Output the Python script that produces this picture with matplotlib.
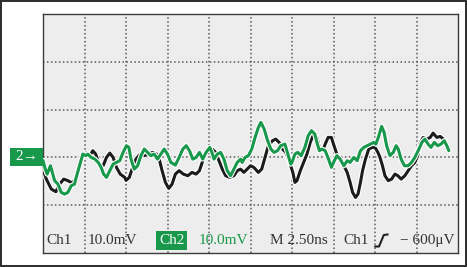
import matplotlib
matplotlib.use("Agg")
import matplotlib.pyplot as plt
import matplotlib.patheffects as pe
from matplotlib.patches import Rectangle
from matplotlib.lines import Line2D

# ---- data (time in divisions, amplitude in mV; 10 mV/div, 2.50 ns/div) ----
ch1_t = [0.00, 0.08, 0.20, 0.31, 0.40, 0.50, 0.60, 0.71, 0.80, 0.88, 0.96, 1.04, 1.13, 1.20,
         1.27, 1.35, 1.45, 1.53, 1.61, 1.69, 1.77, 1.86, 1.97, 2.00, 2.08, 2.16, 2.24, 2.34,
         2.44, 2.55, 2.64, 2.74, 2.80, 2.87, 2.95, 3.03, 3.11, 3.19, 3.28, 3.38, 3.49, 3.59,
         3.69, 3.77, 3.85, 3.93, 4.00, 4.08, 4.16, 4.24, 4.32, 4.40, 4.50, 4.60, 4.68, 4.76,
         4.84, 4.92, 5.00, 5.08, 5.19, 5.27, 5.35, 5.43, 5.53, 5.61, 5.69, 5.77, 5.85, 5.93,
         6.02, 6.07, 6.12, 6.20, 6.28, 6.36, 6.44, 6.52, 6.60, 6.66, 6.74, 6.80, 6.87, 6.95,
         7.00, 7.08, 7.16, 7.25, 7.33, 7.40, 7.46, 7.53, 7.59, 7.65, 7.70, 7.77, 7.85, 7.93,
         8.00, 8.07, 8.12, 8.18, 8.24, 8.32, 8.40, 8.48, 8.55, 8.63, 8.72, 8.80, 8.88, 8.96,
         9.03, 9.08, 9.16, 9.25, 9.33, 9.40, 9.49, 9.57, 9.65, 9.70]
ch1_v = [-2.45, -4.54, -6.63, -7.18, -5.59, -4.54, -4.87, -5.38, -4.18, -1.74, 0.48, 0.90, 0.36, 1.40,
         0.69, -1.40, -1.74, 0.00, 0.90, 0.00, -2.09, -3.49, -4.18, -4.81, -4.18, -2.09, -0.36, 0.69,
         0.36, 0.69, 1.05, 0.69, -0.36, -2.78, -5.23, -6.49, -5.59, -3.49, -2.78, -3.49, -3.83, -3.14,
         -3.49, -2.78, -0.69, 0.69, 1.05, 1.74, 1.05, -0.69, -2.45, -3.83, -4.18, -3.83, -2.78, -2.45,
         -3.14, -2.45, -1.74, -2.09, -3.14, -2.45, 0.00, 2.45, 3.49, 3.83, 3.14, 1.74, 1.05, -0.69,
         -3.14, -5.23, -4.87, -2.78, -1.05, 0.69, 3.14, 4.87, 4.18, 2.09, 1.40, 2.78, 4.18, 4.18,
         2.78, 0.69, -0.69, -1.74, -3.14, -5.23, -7.32, -8.37, -7.68, -5.23, -2.78, -0.36, 1.74, 2.09,
         2.09, 1.05, 0.00, -1.74, -3.83, -4.87, -4.54, -3.49, -3.83, -4.54, -3.83, -2.78, -1.74, -1.05,
         0.36, 2.78, 4.18, 3.83, 4.18, 5.08, 4.18, 4.39, 3.83, 3.14]

ch2_t = [0.00, 0.05, 0.10, 0.18, 0.28, 0.36, 0.44, 0.52, 0.60, 0.68, 0.76, 0.80, 0.88, 0.96,
         1.03, 1.08, 1.16, 1.25, 1.33, 1.40, 1.46, 1.53, 1.61, 1.69, 1.77, 1.85, 1.93, 2.01,
         2.07, 2.12, 2.20, 2.28, 2.36, 2.44, 2.52, 2.60, 2.68, 2.76, 2.84, 2.92, 3.00, 3.08,
         3.19, 3.28, 3.37, 3.45, 3.53, 3.61, 3.69, 3.77, 3.85, 3.93, 4.02, 4.07, 4.12, 4.20,
         4.28, 4.36, 4.44, 4.52, 4.60, 4.68, 4.76, 4.80, 4.87, 4.95, 5.03, 5.11, 5.19, 5.25,
         5.33, 5.40, 5.49, 5.57, 5.65, 5.73, 5.83, 5.91, 5.97, 6.00, 6.07, 6.14, 6.22, 6.31,
         6.39, 6.47, 6.55, 6.60, 6.66, 6.72, 6.80, 6.88, 6.95, 7.00, 7.08, 7.16, 7.25, 7.33,
         7.40, 7.49, 7.57, 7.65, 7.73, 7.81, 7.89, 7.97, 8.02, 8.08, 8.16, 8.22, 8.28, 8.36,
         8.44, 8.51, 8.56, 8.63, 8.71, 8.80, 8.88, 8.96, 9.04, 9.13, 9.20, 9.28, 9.35, 9.43,
         9.51, 9.59, 9.67, 9.73, 9.78]
ch2_v = [-0.63, -2.30, -3.49, -1.74, -4.87, -5.59, -7.32, -7.68, -7.32, -5.94, -5.59, -4.18, -1.74, 0.69,
         0.36, 0.69, 0.00, -0.36, -1.05, -2.09, -3.49, -4.18, -2.78, -1.40, -1.05, -0.69, 1.05, 2.45,
         2.09, -0.36, -2.45, -1.74, 0.36, 1.74, 1.05, 0.36, 0.69, -0.36, 0.69, 1.74, 0.69, -1.05,
         -1.61, 0.00, 1.74, 2.45, 1.40, -0.36, 0.00, 1.05, -0.36, 1.05, 2.09, 1.05, -0.36, 0.69,
         1.05, -0.36, -2.78, -3.83, -2.45, -1.05, -0.36, -1.05, 0.00, 0.36, 1.74, 4.18, 6.28, 7.32,
         5.92, 3.83, 1.74, 1.05, 1.40, 2.45, 2.78, 0.36, -1.40, -1.05, 0.69, 1.05, 0.36, 2.09,
         4.54, 5.59, 4.87, 3.14, 1.40, 1.74, 1.40, -0.36, -2.09, -1.05, 0.36, -0.36, -1.74, -0.69,
         -1.05, 0.00, -0.69, 1.40, 2.09, 2.45, 2.78, 3.14, 2.78, 4.18, 6.49, 5.23, 2.45, 0.36,
         1.05, 2.45, 1.74, -0.36, -1.74, -1.74, -1.05, 0.00, 1.40, 3.14, 3.83, 2.78, 2.09, 3.14,
         2.45, 2.78, 3.49, 2.45, 1.40]

ch1_label = "Ch1"
ch1_scale = "10.0mV"
ch2_label = "Ch2"
ch2_scale = "10.0mV"
time_label = "M 2.50ns"
trig_src = "Ch1"
trig_level = "− 600μV"
marker_label = "2→"

GREEN = "#17984a"
BLACK = "#1c1c1c"
TXT = "#333333"
SERIF = ["Liberation Serif", "DejaVu Serif"]

W, H = 467, 267
fig = plt.figure(figsize=(W / 100, H / 100), dpi=100)
fig.patch.set_facecolor("white")

# outer frame
fig.patches.append(Rectangle((1.2 / W, 1.2 / H), (W - 2.4) / W, (H - 2.4) / H,
                             transform=fig.transFigure, fill=False,
                             edgecolor="#2b2b2b", linewidth=1.4))

ax = fig.add_axes([43 / W, (H - 253) / H, 415 / W, 239 / H])
ax.set_facecolor("#ededed")
ax.set_xlim(0, 10)
ax.set_ylim(-20, 30)
ax.set_xticks(range(1, 10))
ax.set_yticks([-10, 0, 10, 20])
ax.tick_params(length=0, labelbottom=False, labelleft=False)
ax.grid(True, color="#5a5a5a", linestyle=(0, (1.0, 1.6)), linewidth=1.1)
for s in ax.spines.values():
    s.set_color("#3c3c3c")
    s.set_linewidth(1.0)

halo = [pe.Stroke(linewidth=3.8, foreground="white"), pe.Normal()]
ax.plot(ch1_t, ch1_v, color=BLACK, lw=2.2, solid_joinstyle="round",
        solid_capstyle="round", path_effects=halo, zorder=3)
ax.plot(ch2_t, ch2_v, color=GREEN, lw=2.2, solid_joinstyle="round",
        solid_capstyle="round", path_effects=halo, zorder=4)

# bottom readout texts
ty = -17.4
fs = 11
ax.text(0.07, ty, ch1_label, color=TXT, fontsize=fs, family=SERIF, va="center", ha="left")
ax.text(1.08, ty, ch1_scale, color=TXT, fontsize=fs, family=SERIF, va="center", ha="left")
ax.text(2.80, ty, ch2_label, color="white", fontsize=fs, family=SERIF, va="center", ha="left",
        bbox=dict(boxstyle="square,pad=0.18", facecolor=GREEN, edgecolor="none"))
ax.text(3.76, ty, ch2_scale, color=GREEN, fontsize=fs, family=SERIF, va="center", ha="left")
ax.text(5.47, ty, time_label, color=TXT, fontsize=fs, family=SERIF, va="center", ha="left")
ax.text(7.23, ty, trig_src, color=TXT, fontsize=fs, family=SERIF, va="center", ha="left")
ax.text(8.60, ty, trig_level, color=TXT, fontsize=fs, family=SERIF, va="center", ha="left")

# rising-edge trigger symbol (axes-fraction decoration)
ex = [(375.3 - 43) / 415, (379.0 - 43) / 415, (383.8 - 43) / 415, (387.5 - 43) / 415]
ey = [(253 - 246.5) / 239, (253 - 246.5) / 239, (253 - 235.0) / 239, (253 - 234.5) / 239]
ax.add_line(Line2D(ex, ey, transform=ax.transAxes, color="#222222", lw=1.5,
                   solid_joinstyle="round"))

# channel 2 ground marker
fig.patches.append(Rectangle((10 / W, (H - 166) / H), 33 / W, 18 / H,
                             transform=fig.transFigure, facecolor=GREEN, edgecolor="none"))
fig.text(26.5 / W, (H - 157) / H, marker_label, color="white", fontsize=11,
         family=SERIF, ha="center", va="center")

fig.savefig("out.png", dpi=100, facecolor="white")
